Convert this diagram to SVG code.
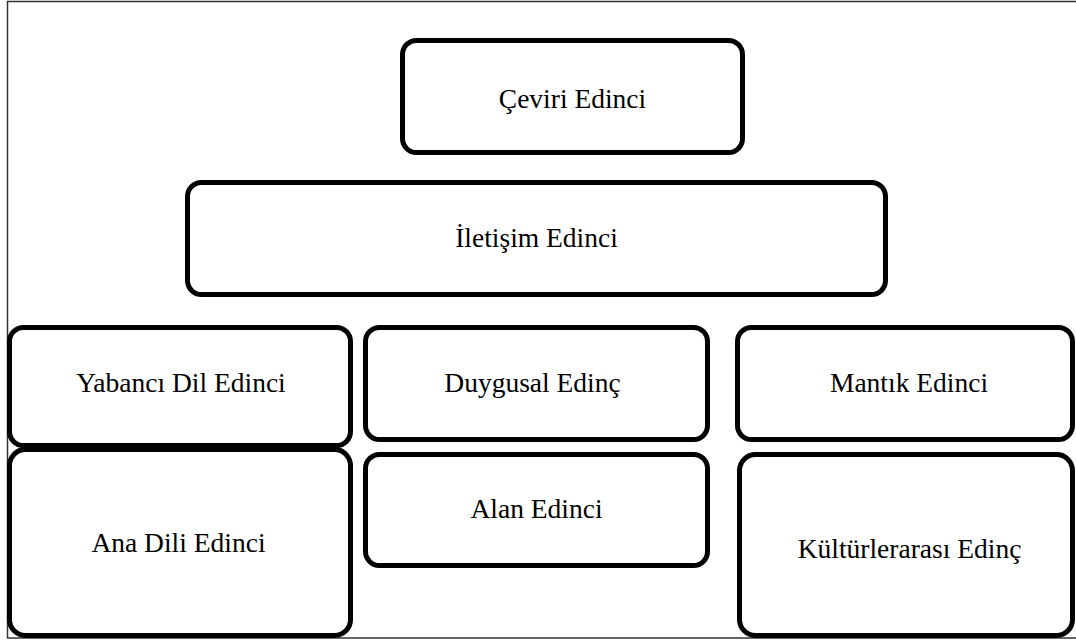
<svg xmlns="http://www.w3.org/2000/svg" width="1076" height="643" viewBox="0 0 1076 643">
  <style>
    .frame { fill: none; stroke: #333; stroke-width: 1.5; }
    .box { fill: #fff; stroke: #000; stroke-width: 5; }
    .label { font-family: "Liberation Serif", "Times New Roman", serif; font-size: 27.5px; fill: #000; text-anchor: middle; }
  </style>
  <rect width="1076" height="643" fill="#fff"/>
  <!-- page frame -->
  <rect class="frame" x="7.5" y="1.5" width="1080" height="636.5"/>
  <g id="connectors"></g>
  <g id="ceviri">
    <rect class="box" x="402.5" y="40.5" width="340" height="112" rx="14"/>
    <text class="label" x="572.5" y="108">Çeviri Edinci</text>
  </g>
  <g id="iletisim">
    <rect class="box" x="187.5" y="182.5" width="698" height="112" rx="14"/>
    <text class="label" x="536.5" y="247">İletişim Edinci</text>
  </g>
  <g id="yabanci-dil">
    <rect class="box" x="9.5" y="327.5" width="341" height="118" rx="14"/>
    <text class="label" x="181" y="392">Yabancı Dil Edinci</text>
  </g>
  <g id="duygusal">
    <rect class="box" x="365.5" y="327.5" width="342" height="112" rx="14"/>
    <text class="label" x="532.5" y="392">Duygusal Edinç</text>
  </g>
  <g id="mantik">
    <rect class="box" x="737.5" y="327.5" width="335" height="112" rx="14"/>
    <text class="label" x="909" y="392">Mantık Edinci</text>
  </g>
  <g id="ana-dili">
    <rect class="box" x="9.5" y="449.5" width="341" height="186" rx="16"/>
    <text class="label" x="178.5" y="552">Ana Dili Edinci</text>
  </g>
  <g id="alan">
    <rect class="box" x="365.5" y="454.5" width="342" height="111" rx="14"/>
    <text class="label" x="536.5" y="518">Alan Edinci</text>
  </g>
  <g id="kulturlerarasi">
    <rect class="box" x="739.5" y="454.5" width="333" height="181" rx="16"/>
    <text class="label" x="909.5" y="558">Kültürlerarası Edinç</text>
  </g>
</svg>
